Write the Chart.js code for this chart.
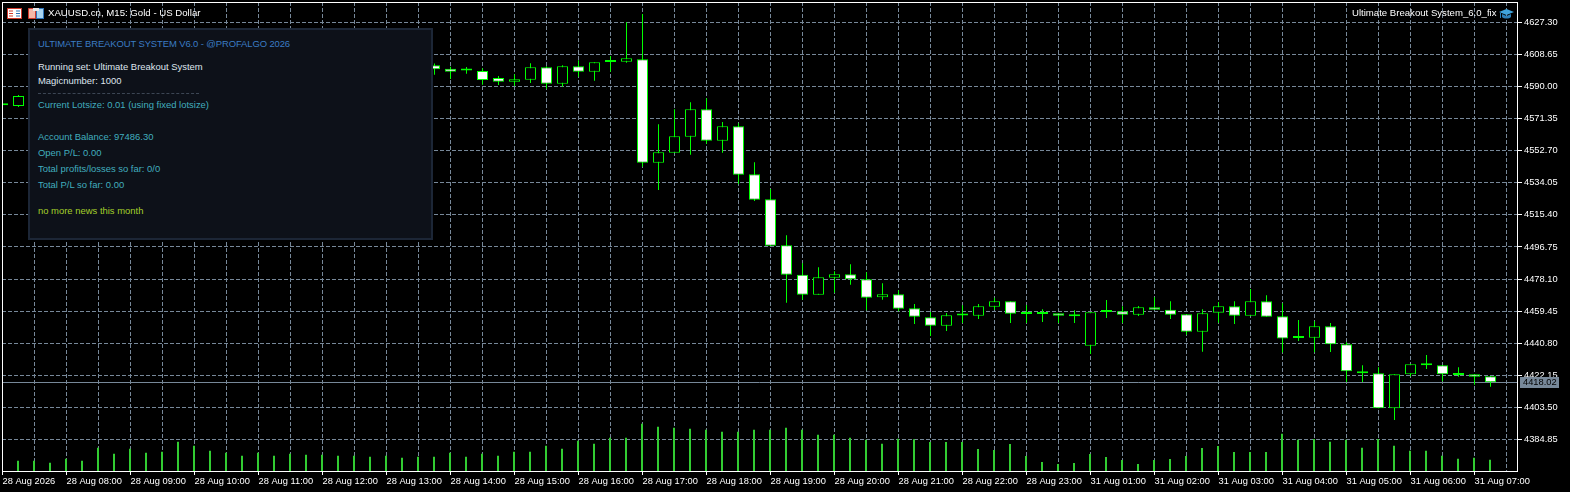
<!DOCTYPE html>
<html><head><meta charset="utf-8">
<style>
html,body{margin:0;padding:0;background:#000;width:1570px;height:492px;overflow:hidden}
#wrap{position:relative;width:1570px;height:492px}
canvas{position:absolute;left:0;top:0}
.t{position:absolute;white-space:nowrap;font:9.45px/12px "Liberation Sans",sans-serif;color:#fff}
#panel{position:absolute;left:28px;top:28px;width:401px;height:208px;background:#0d1119;border:2px solid #1c2636}
.w{color:#dfe5ee}.c{color:#41aebf}.y{color:#a3cf2a}
svg{position:absolute}
</style></head><body>
<div id="wrap">
<canvas id="c" width="1570" height="492"></canvas>
<div class="t" style="left:48px;top:7px;font-size:9.65px" id="title">XAUUSD.cn, M15: Gold - US Dollar</div>
<div class="t" style="left:1352px;top:7px;font-size:9.6px" id="ea">Ultimate Breakout System_6.0_fix</div>
<svg style="left:7px;top:8px" width="15" height="11" viewBox="0 0 15 11"><rect x=".5" y=".5" width="14" height="10" fill="#fff" stroke="#d03a2c"/><path d="M2 3h4M2 5.5h4M2 8h4" stroke="#d03a2c"/><path d="M9 3h4M9 5.5h4M9 8h4" stroke="#2c72b8"/></svg>
<svg style="left:28px;top:8px" width="16" height="11" viewBox="0 0 16 11"><path d="M.5.5h6l1 1v9h-7z" fill="#f4b8a8" stroke="#d03a2c"/><rect x="8.5" y=".5" width="7" height="10" fill="#a8d4f0" stroke="#2c72b8"/><rect x="5" y="0" width="6" height="3" fill="#e8e8e8"/></svg>
<svg style="left:1499px;top:8px" width="15" height="12" viewBox="0 0 15 12"><path d="M0 4L7.5 1 15 4 7.5 7z" fill="#3fa3dc"/><path d="M3 6v3c2 2 7 2 9 0V6L7.5 8z" fill="#2c7fb8"/><rect x="1" y="5" width="1" height="5" fill="#2c7fb8"/></svg>
<div id="panel"></div>
<div class="t" style="left:38px;top:38px;color:#3b7cc4;letter-spacing:-.1px">ULTIMATE BREAKOUT SYSTEM V6.0 - @PROFALGO 2026</div>
<div class="t w" style="left:38px;top:61px">Running set: Ultimate Breakout System</div>
<div class="t w" style="left:38px;top:75px">Magicnumber: 1000</div>
<div style="position:absolute;left:38px;top:93px;width:161px;border-top:1px dashed #3c4654"></div>
<div class="t c" style="left:38px;top:99px">Current Lotsize: 0.01 (using fixed lotsize)</div>
<div class="t c" style="left:38px;top:131px">Account Balance: 97486.30</div>
<div class="t c" style="left:38px;top:147px">Open P/L: 0.00</div>
<div class="t c" style="left:38px;top:163px">Total profits/losses so far: 0/0</div>
<div class="t c" style="left:38px;top:179px">Total P/L so far: 0.00</div>
<div class="t y" style="left:38px;top:205px">no more news this month</div>
</div>
<script src="https://cdn.jsdelivr.net/npm/chart.js@4"></script>
<script>
const firstBar = -1;
const openP = [4579.68,4578.69,
null,null,null,null,null,null,null,null,null,null,null,null,null,null,null,null,null,null,null,null,null,null,null,null,null,
4602.35,4600.38,4599.6,4599.04,4594.97,4592.82,4593.98,4601.19,4591.66,4601.77,4598.63,4604.6,4604.45,4605.84,4545.73,4551.54,4560.84,4576.77,4558.52,4566.89,4538.98,4524.45,4497.7,4480.61,4468.98,4478.87,4480.84,4477.93,4467.47,4469.21,4461.07,4455.84,4450.96,4457.1,4456.77,4462,4465.14,4458.1,4458.1,4458.17,4456.75,4439.33,4458.95,4459.33,4457.35,4461.66,4460.26,4457.59,4447.47,4458.52,4462.24,4456.77,4465.14,4456.42,4444.15,4443.98,4450.61,4440.14,4424.45,4423.28,4402.93,4422.7,4427.95,4427.93,4422.6,4422.7,4421.54];
const closeP = [4579.1,4584.51,
null,null,null,null,null,null,null,null,null,null,null,null,null,null,null,null,null,null,null,null,null,null,null,null,null,
4600.03,4598.63,4599.3,4593.81,4592.82,4594.21,4601.19,4591.66,4601.77,4598.63,4604.1,4604.3,4606.42,4545.73,4551.77,4561.07,4576.77,4558.52,4566.89,4538.75,4524.21,4497.47,4480.61,4468.98,4479.1,4480.84,4477.93,4467.24,4469.21,4460.84,4456.19,4450.96,4457,4456.9,4462.24,4465.14,4457.94,4457.8,4457.8,4456.77,4456.45,4458.75,4459.25,4457.35,4461.66,4460.26,4457.35,4447.47,4458.17,4462.24,4456.77,4465.14,4456.19,4443.52,4443.8,4450.61,4440.14,4424.45,4423.28,4402.93,4422.7,4428.52,4428.25,4422.7,4422.3,4421.31,4418.02];
const highP = [4580,4585.09,
null,null,null,null,null,null,null,null,null,null,null,null,null,null,null,null,null,null,null,null,null,null,null,null,null,
4603.4,4601.54,4601.37,4600.61,4596.13,4597.12,4603.52,4601.77,4602.35,4605.26,4604.1,4607.76,4627.35,4632.18,4568.05,4576.77,4580.84,4583.17,4569.39,4568.63,4545.96,4530.44,4503.52,4487.24,4484.91,4482.59,4486.66,4482,4475.61,4471.54,4463.57,4458.92,4458.34,4462.82,4463.57,4467.24,4465.14,4462.99,4460.49,4458.17,4459.91,4458.75,4465.9,4462.24,4462.41,4467.47,4465.14,4457.59,4460.49,4464.56,4465.14,4472.3,4468.63,4464.04,4454.27,4453.52,4452.53,4441.31,4427.93,4426.77,4422.7,4428.52,4433.92,4427.93,4426.77,4422.7,4421.54];
const lowP = [4578.8,4578.11,
null,null,null,null,null,null,null,null,null,null,null,null,null,null,null,null,null,null,null,null,null,null,null,null,null,
4596.89,4594.39,4597.47,4591.08,4590.9,4590.32,4592.06,4588.75,4589.91,4595.73,4593.4,4598.63,4603.87,4543.4,4529.85,4551.54,4550.38,4556.77,4551.54,4533.34,4523.46,4497.47,4464.33,4466.07,4468.98,4470.14,4474.8,4459.91,4466.07,4459.33,4451.95,4444.97,4447.88,4452.53,4454.85,4460.26,4452.53,4452.53,4453.11,4452.53,4452.53,4434.5,4455.43,4452.53,4456.6,4460.26,4454.85,4445.73,4435.84,4452.7,4451.95,4456.77,4456.19,4435.38,4442.06,4435.49,4435.67,4418.23,4418.23,4402.93,4396.13,4421.54,4425.78,4418.63,4421.31,4416.65,4415.49];
const volumes = [null,
1030,1030,830,1230,1030,2330,1730,2230,1830,1930,2930,2530,2030,1830,1530,1830,1530,1730,1630,1630,1530,1530,1430,1530,1330,1430,1430,1830,1430,1730,1530,1930,
1930,2530,2230,3030,2730,3330,3330,4730,4430,4330,4230,4130,3930,3930,4130,4130,4330,4130,3630,3630,3330,3130,2730,3230,3170,2900,2900,2900,2200,2100,2700,1500,900,700,800,1700,1400,1100,700,1100,1200,1500,2300,2500,1900,1900,1900,3730,3130,3200,2930,3130,2330,3200,2530,2030,2030,1530,1230,1330,1130];
const priceTicks = [4627.30,4608.65,4590.00,4571.35,4552.70,4534.05,4515.40,4496.75,4478.10,4459.45,4440.80,4422.15,4403.50,4384.85];
const timeLabels = ["28 Aug 2026","28 Aug 08:00","28 Aug 09:00","28 Aug 10:00","28 Aug 11:00","28 Aug 12:00","28 Aug 13:00","28 Aug 14:00","28 Aug 15:00","28 Aug 16:00","28 Aug 17:00","28 Aug 18:00","28 Aug 19:00","28 Aug 20:00","28 Aug 21:00","28 Aug 22:00","28 Aug 23:00","31 Aug 01:00","31 Aug 02:00","31 Aug 03:00","31 Aug 04:00","31 Aug 05:00","31 Aug 06:00","31 Aug 07:00"];
const lastPrice = 4418.02;
const gridTicks = [-1,1,3,5,7,9,11,13,15,17,19,21,23,25,27,29,31,33,35,37,39,41,43,45,47,49,51,53,55,57,59,61,63,65,67,69,71,73,75,77,79,81,83,85,87,89,91,93];

const LIME='#00ff00', VOL='#32cd32', GRID='#778899', FONT='"Liberation Sans",sans-serif';
const bars = openP.map((o,i)=>({k:firstBar+i,o,c:closeP[i],h:highP[i],l:lowP[i],v:volumes[i]}));
const seen = bars.filter(b=>b.o!==null);
const labelFor = v => (v+1)%4===0 ? (timeLabels[(v+1)/4]||'') : '';
const noPad = s => { s.paddingLeft=0; s.paddingRight=0; s.paddingTop=0; s.paddingBottom=0; };

const frame = {
  id:'frame',
  beforeDatasetsDraw(ch){
    const y=Math.round(ch.scales.y.getPixelForValue(lastPrice))+.5, a=ch.chartArea, g=ch.ctx;
    g.save();g.strokeStyle=GRID;g.lineWidth=1;g.beginPath();g.moveTo(a.left,y);g.lineTo(a.right,y);g.stroke();g.restore();
  },
  afterDraw(ch){
    const a=ch.chartArea,g=ch.ctx,y=Math.round(ch.scales.y.getPixelForValue(lastPrice));
    g.save();
    g.strokeStyle='#fff';g.lineWidth=1;
    g.strokeRect(a.left+.5,a.top+.5,a.right-a.left,a.bottom-a.top);
    g.fillStyle=GRID;g.fillRect(1520,y-5,39,11);
    g.fillStyle='#000';g.font='9.3px '+FONT;g.textBaseline='middle';g.textAlign='left';
    g.fillText(lastPrice.toFixed(2),1523,y+.5);
    g.restore();
  }
};

new Chart(document.getElementById('c'),{
  type:'bar',
  plugins:[frame],
  data:{datasets:[
    {label:'Volume',order:3,yAxisID:'v',barThickness:2,grouped:false,backgroundColor:VOL,inflateAmount:0,
     data:bars.filter(b=>b.v!==null).map(b=>({x:b.k-.03125,y:b.v}))},
    {label:'Range',order:2,yAxisID:'y',barThickness:1,grouped:false,backgroundColor:LIME,inflateAmount:0,
     data:seen.map(b=>({x:b.k,y:[b.l,b.h]}))},
    {label:'Body',order:1,yAxisID:'y',barThickness:11,grouped:false,minBarLength:2,borderWidth:1,borderSkipped:false,borderColor:LIME,inflateAmount:0,
     backgroundColor:seen.map(b=>b.c<b.o?'#ffffff':'#000000'),
     data:seen.map(b=>({x:b.k,y:[b.o,b.c]}))}
  ]},
  options:{
    responsive:false,animation:false,devicePixelRatio:1,
    layout:{padding:{left:2,top:2,right:0,bottom:0}},
    plugins:{legend:{display:false},tooltip:{enabled:false}},
    scales:{
      x:{type:'linear',offset:false,min:-1.03125,max:93.65625,
        afterBuildTicks(s){s.ticks=gridTicks.map(v=>({value:v}));},
        afterFit(s){s.height=21;noPad(s);},
        border:{display:false,dash:[4,2]},
        grid:{offset:false,color:GRID,lineWidth:1,tickLength:4,tickColor:c=>(c.tick&&labelFor(c.tick.value))?'#fff':'rgba(0,0,0,0)'},
        ticks:{autoSkip:false,maxRotation:0,minRotation:0,align:'start',color:'#fff',padding:1,font:{family:FONT,size:9.3},callback:labelFor}
      },
      y:{type:'linear',position:'right',min:4366.48,max:4639.16,
        afterBuildTicks(s){s.ticks=priceTicks.map(v=>({value:v}));},
        afterFit(s){s.width=53;noPad(s);},
        border:{display:false,dash:[4,2]},
        grid:{color:GRID,lineWidth:1,tickLength:5,tickColor:'#fff'},
        ticks:{color:'#fff',padding:2,font:{family:FONT,size:9.3},callback:v=>Number(v).toFixed(2)}
      },
      v:{display:false,min:0,max:46900}
    }
  }
});
</script>
</body></html>
